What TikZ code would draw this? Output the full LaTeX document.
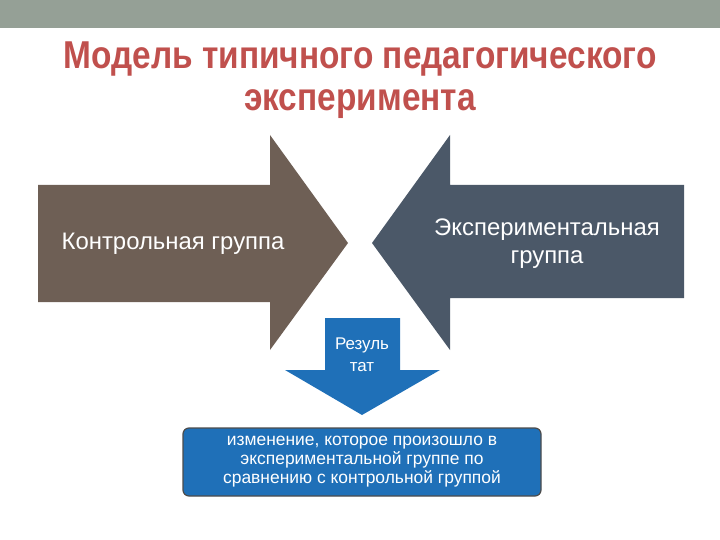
\documentclass[tikz,border=0pt]{standalone}
\usepackage{fontspec}
\setmainfont{Liberation Sans}
\definecolor{bar}{HTML}{95A096}
\definecolor{ttl}{HTML}{C0504D}
\definecolor{brn}{HTML}{6E5F55}
\definecolor{slt}{HTML}{4B5868}
\definecolor{blu}{HTML}{1F70B8}
\tikzset{lbl/.style={text=white,align=center,font=\fontsize{24}{28}\selectfont}}
\begin{document}
\begin{tikzpicture}[x=1bp,y=-1bp]
\useasboundingbox (0,0) rectangle (720,540);
\fill[bar] (0,0) rectangle (720,28);
\node[text=ttl,align=center,font=\bfseries\fontsize{39}{42}\selectfont] (title) at (360,80) {\scalebox{0.86}[1]{Модель типичного педагогического}\\\scalebox{0.86}[1]{эксперимента}};
\fill[brn] (38,185) -- (270,185) -- (270,135) -- (348,243) -- (270,350) -- (270,302) -- (38,302) -- cycle;
\fill[slt] (684,185) -- (450,185) -- (450,135) -- (372,243) -- (450,350) -- (450,298) -- (684,298) -- cycle;
\node[lbl] (ctrl) at (173,244) {Контрольная группа};
\node[lbl] (exp) at (547,244) {Экспериментальная\\группа};
\fill[blu] (325,318) -- (400,318) -- (400,370) -- (440,370) -- (362,415) -- (285,370) -- (325,370) -- cycle;
\node[text=white,align=center,font=\fontsize{17}{22}\selectfont] (res) at (362,355) {Резуль\\тат};
\node[draw=black!70,line width=1.2pt,fill=blu,rounded corners=6bp,minimum width=358bp,minimum height=68bp,text=white,align=center,font=\fontsize{17.5}{19}\selectfont] (box) at (362,462) {изменение, которое произошло в\\экспериментальной группе по\\сравнению с контрольной группой};
\end{tikzpicture}
\end{document}
